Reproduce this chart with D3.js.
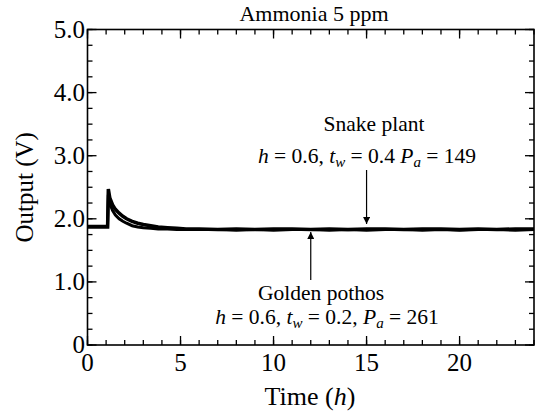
<!DOCTYPE html>
<html>
<meta charset="utf-8">
<style>
body { margin: 0; background: #fff; }
text { font-family: "Liberation Serif", "Times New Roman", serif; fill: #000; }
</style>
<body>
<svg width="537" height="412"></svg>
<script src="https://d3js.org/d3.v7.min.js"></script>
<script>

// time (h) and output (V)
var timeA = [0, 0.5, 1.0, 1.08, 1.12, 1.2, 1.35, 1.5, 1.7, 1.9, 2.1, 2.4, 2.7, 3.0, 3.4, 3.8, 4.3, 4.8, 5.3, 6, 7, 8, 9, 10, 11, 12, 13, 14, 15, 16, 17, 18, 19, 20, 21, 22, 23, 24];
var outputA = [1.87, 1.87, 1.87, 1.87, 2.47, 2.33, 2.22, 2.15, 2.09, 2.04, 2.00, 1.96, 1.93, 1.91, 1.89, 1.87, 1.86, 1.85, 1.84, 1.84, 1.83, 1.84, 1.83, 1.84, 1.84, 1.83, 1.84, 1.83, 1.84, 1.84, 1.83, 1.84, 1.84, 1.83, 1.84, 1.83, 1.84, 1.84];

var timeB = [0, 0.5, 1.0, 1.08, 1.12, 1.2, 1.35, 1.5, 1.7, 1.9, 2.1, 2.4, 2.7, 3.0, 3.4, 3.8, 4.3, 4.8, 5.3, 6, 7, 8, 9, 10, 11, 12, 13, 14, 15, 16, 17, 18, 19, 20, 21, 22, 23, 24];
var outputB = [1.88, 1.88, 1.88, 1.88, 2.38, 2.24, 2.13, 2.06, 2.00, 1.96, 1.93, 1.89, 1.87, 1.86, 1.85, 1.84, 1.84, 1.83, 1.83, 1.83, 1.83, 1.82, 1.83, 1.82, 1.83, 1.83, 1.82, 1.83, 1.82, 1.83, 1.83, 1.82, 1.83, 1.82, 1.83, 1.83, 1.82, 1.83];

var yTickLabels = ["0", "1.0", "2.0", "3.0", "4.0", "5.0"];
var xTickLabels = ["0", "5", "10", "15", "20"];

var svg = d3.select("svg");
var mLeft = 87.5, mRight = 534, mTop = 29.5, mBottom = 345;

var x = d3.scaleLinear().domain([0, 24]).range([mLeft, mRight]);
var y = d3.scaleLinear().domain([0, 5]).range([mBottom, mTop]);

// frame
svg.append("rect")
    .attr("x", mLeft).attr("y", mTop)
    .attr("width", mRight - mLeft).attr("height", mBottom - mTop)
    .attr("fill", "none").attr("stroke", "#000").attr("stroke-width", 1.6);

var xMinor = d3.range(0, 25, 1);
var xMajor = d3.range(0, 25, 5);
var yMinor = d3.range(0, 5.01, 0.25);
var yMajor = d3.range(0, 5.01, 1);

function ticks(g, vals, len, axisFn) {
  g.selectAll(null).data(vals).enter().append("line")
    .attr("stroke", "#000").attr("stroke-width", 1.3)
    .each(axisFn(len));
}

var tg = svg.append("g");
function bottomT(len) { return function(d) { d3.select(this).attr("x1", x(d)).attr("x2", x(d)).attr("y1", mBottom).attr("y2", mBottom - len); }; }
function topT(len) { return function(d) { d3.select(this).attr("x1", x(d)).attr("x2", x(d)).attr("y1", mTop).attr("y2", mTop + len); }; }
function leftT(len) { return function(d) { d3.select(this).attr("y1", y(d)).attr("y2", y(d)).attr("x1", mLeft).attr("x2", mLeft + len); }; }
function rightT(len) { return function(d) { d3.select(this).attr("y1", y(d)).attr("y2", y(d)).attr("x1", mRight).attr("x2", mRight - len); }; }

ticks(tg, xMinor, 5, bottomT);
ticks(tg, xMajor, 9, bottomT);
ticks(tg, xMinor, 5, topT);
ticks(tg, xMajor, 9, topT);
ticks(tg, yMinor, 5, leftT);
ticks(tg, yMajor, 9, leftT);
ticks(tg, yMinor, 5, rightT);
ticks(tg, yMajor, 9, rightT);

// tick labels
svg.selectAll(".xl").data(xMajor).enter().append("text")
    .attr("x", function(d) { return x(d); })
    .attr("y", 371)
    .attr("text-anchor", "middle")
    .attr("font-size", 25)
    .text(function(d, i) { return xTickLabels[i]; });

svg.selectAll(".yl").data(yMajor).enter().append("text")
    .attr("x", 85)
    .attr("y", function(d) { return y(d) + 8; })
    .attr("text-anchor", "end")
    .attr("font-size", 25)
    .text(function(d, i) { return yTickLabels[i]; });

// axis titles
var xt = svg.append("text")
    .attr("x", 310).attr("y", 405)
    .attr("text-anchor", "middle").attr("font-size", 26);
xt.append("tspan").text("Time (");
xt.append("tspan").attr("font-style", "italic").text("h");
xt.append("tspan").text(")");

svg.append("text")
    .attr("transform", "translate(33," + ((mTop + mBottom) / 2) + ") rotate(-90)")
    .attr("text-anchor", "middle").attr("font-size", 25)
    .text("Output (V)");

svg.append("text")
    .attr("x", 314).attr("y", 21)
    .attr("text-anchor", "middle").attr("font-size", 22)
    .text("Ammonia 5 ppm");

// data lines
var line = d3.line()
    .x(function(d) { return x(d[0]); })
    .y(function(d) { return y(d[1]); });

svg.append("path")
    .datum(d3.zip(timeB, outputB))
    .attr("fill", "none").attr("stroke", "#000").attr("stroke-width", 3)
    .attr("d", line);
svg.append("path")
    .datum(d3.zip(timeA, outputA))
    .attr("fill", "none").attr("stroke", "#000").attr("stroke-width", 3.5)
    .attr("d", line);

// annotations
svg.append("defs").append("marker")
    .attr("id", "ah").attr("viewBox", "0 0 10 10")
    .attr("refX", 10).attr("refY", 5)
    .attr("markerWidth", 12).attr("markerHeight", 7)
    .attr("markerUnits", "userSpaceOnUse")
    .attr("orient", "auto")
  .append("path").attr("d", "M0,0L10,5L0,10Z").attr("fill", "#000");

svg.append("line")
    .attr("x1", x(15)).attr("x2", x(15))
    .attr("y1", 170).attr("y2", 224)
    .attr("stroke", "#000").attr("stroke-width", 1.2)
    .attr("marker-end", "url(#ah)");

svg.append("line")
    .attr("x1", x(12)).attr("x2", x(12))
    .attr("y1", 280).attr("y2", 232)
    .attr("stroke", "#000").attr("stroke-width", 1.2)
    .attr("marker-end", "url(#ah)");

function label(xp, yp, parts) {
  var t = svg.append("text").attr("x", xp).attr("y", yp)
      .attr("text-anchor", "middle").attr("font-size", 21.5);
  parts.forEach(function(p) {
    var s = t.append("tspan").text(p[0]);
    if (p[1] == "i") s.attr("font-style", "italic");
    if (p[1] == "sub") s.attr("font-style", "italic").attr("font-size", 15).attr("dy", 4);
    if (p[1] == "up") s.attr("dy", -4);
  });
}

label(374, 131, [["Snake plant", ""]]);
label(367, 163, [["h", "i"], [" = 0.6, ", ""], ["t", "i"], ["w", "sub"], [" = 0.4 ", "up"], ["P", "i"], ["a", "sub"], [" = 149", "up"]]);
label(321, 300, [["Golden pothos", ""]]);
label(327, 324, [["h", "i"], [" = 0.6, ", ""], ["t", "i"], ["w", "sub"], [" = 0.2, ", "up"], ["P", "i"], ["a", "sub"], [" = 261", "up"]]);

</script>
</body>
</html>
